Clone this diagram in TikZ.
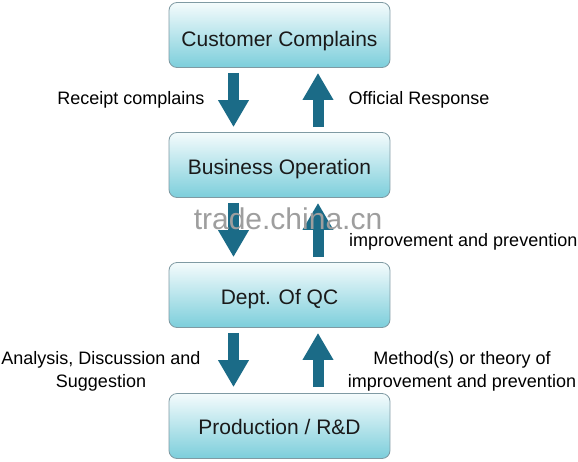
\documentclass[tikz,border=0pt]{standalone}
\usepackage{fontspec}
\setmainfont{Liberation Sans}
\usetikzlibrary{arrows.meta,calc}
\definecolor{boxline}{HTML}{7F9AA3}
\definecolor{boxtop}{HTML}{F4FBFC}
\definecolor{boxbot}{HTML}{7CCEDB}
\definecolor{arrowc}{HTML}{1B6B87}
\definecolor{txt}{HTML}{1A1A1A}
\begin{document}
\begin{tikzpicture}[x=1pt,y=-1pt,
  box/.style={draw=boxline, line width=0.8pt, rounded corners=8pt, top color=boxtop, bottom color=boxbot, minimum width=221pt, minimum height=65pt, inner sep=0pt, font=\fontsize{21}{25}\selectfont, text=txt, text height=20pt, text depth=0.4pt},
  blockarrow/.style={draw=arrowc, line width=11pt, -{Triangle[length=27pt,width=29pt]}},
  lbl/.style={font=\fontsize{18}{23}\selectfont, align=center, text=black, inner sep=0pt}]
\useasboundingbox (0,0) rectangle (578,461);
\node[box, text height=24pt] (b1) at (279.5,35) {Customer Complains};
\node[box] (b2) at (279.5,165) {Business Operation};
\node[box] (b3) at (279.5,295) {Dept. Of QC};
\node[box, text height=17pt] (b4) at (279.5,426) {Production / R\&D};
% arrows
\draw[blockarrow] ($(b1.south)+(-46,5)$) -- ($(b2.north)+(-46,-5)$);
\draw[blockarrow] ($(b2.north)+(38.5,-5)$) -- ($(b1.south)+(38.5,5)$);
\draw[blockarrow] ($(b2.south)+(-46,5)$) -- ($(b3.north)+(-46,-5)$);
\draw[blockarrow] ($(b3.north)+(38.5,-5)$) -- ($(b2.south)+(38.5,5)$);
\draw[blockarrow] ($(b3.south)+(-46,5)$) -- ($(b4.north)+(-46,-6)$);
\draw[blockarrow] ($(b4.north)+(38.5,-6)$) -- ($(b3.south)+(38.5,5)$);
% labels
\node[lbl] (l1) at (131,100) {Receipt complains};
\node[lbl] (l2) at (419,100) {Official Response};
\node[lbl] (l3) at (101,371) {Analysis, Discussion and\\Suggestion};
\node[lbl] (l4) at (462,371) {Method(s) or theory of\\improvement and prevention};
\node[lbl, anchor=west] (l5) at (349,242) {improvement and prevention};
\node[font=\fontsize{30}{30}\selectfont, text=black!38, inner sep=0pt] (wm) at (288,219) {trade.china.cn};
\end{tikzpicture}
\end{document}
